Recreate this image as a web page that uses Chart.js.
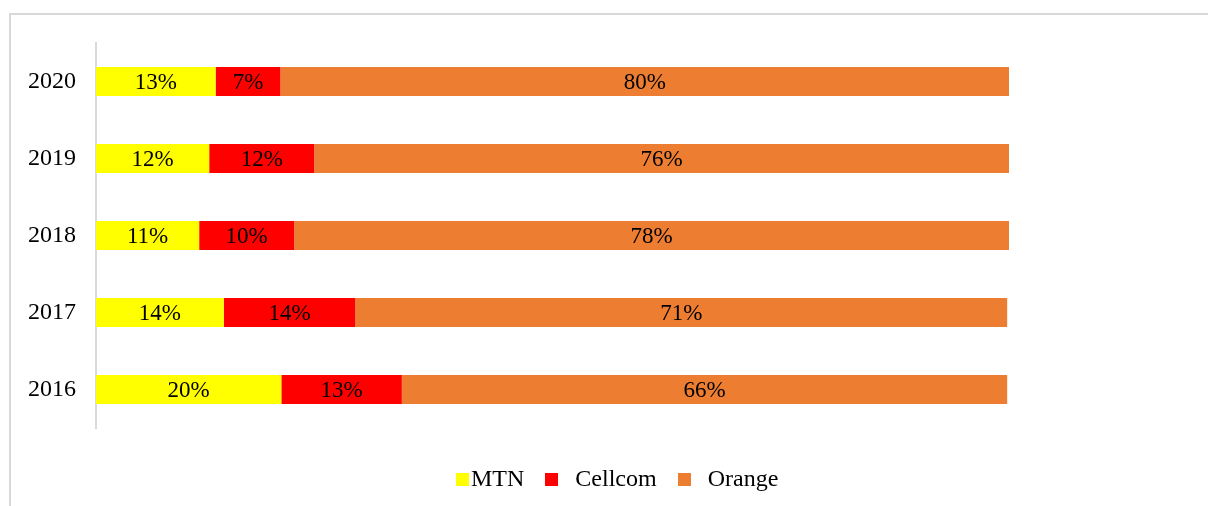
<!DOCTYPE html>
<html>
<head>
<meta charset="utf-8">
<script src="https://cdn.jsdelivr.net/npm/chart.js@4.4.0/dist/chart.umd.min.js"></script>
<style>
    html, body { margin: 0; padding: 0; background: #fff; overflow: hidden; }
    #frame {
        position: absolute; left: 9px; top: 13px;
        width: 1220px; height: 520px;
        border: 2px solid #d9d9d9;
    }
    #wrap { position: absolute; left: 0; top: 0; width: 1208px; height: 506px; }
    #legend {
        position: absolute; left: 456px; top: 465px;
        display: flex; align-items: center;
        font-family: 'Liberation Serif', 'Times New Roman', serif;
        font-size: 24px; color: #000; white-space: nowrap;
    }
    .legend-item { display: flex; align-items: center; margin-right: 21px; }
    .legend-box { width: 13px; height: 13px; display: inline-block; margin-top: 2px; }
</style>
</head>
<body>
<div id="frame"></div>
<div id="wrap"><canvas id="shareChart" width="1208" height="506"></canvas></div>
<div id="legend"></div>
<script>
// market share by operator, percent
const years = ['2020', '2019', '2018', '2017', '2016'];
const seriesNames = ['MTN', 'Cellcom', 'Orange'];
const mtnShare = [13.1, 12.4, 11.3, 14.0, 20.3];
const cellcomShare = [7.1, 11.5, 10.4, 14.4, 13.2];
const orangeShare = [79.8, 76.1, 78.3, 71.4, 66.3];
const seriesColors = ['#ffff00', '#ff0000', '#ed7d31'];

const serif = "'Liberation Serif', 'Times New Roman', serif";

// draws the % value in the middle of each bar segment
const barLabels = {
    id: 'barLabels',
    afterDatasetsDraw(chart) {
        const ctx = chart.ctx;
        ctx.save();
        ctx.font = '23px ' + serif;
        ctx.fillStyle = '#000';
        ctx.textAlign = 'center';
        ctx.textBaseline = 'middle';
        chart.data.datasets.forEach((ds, i) => {
            chart.getDatasetMeta(i).data.forEach((bar, j) => {
                const x = (bar.x + bar.base) / 2;
                ctx.fillText(Math.round(ds.data[j]) + '%', x, bar.y + 1);
            });
        });
        ctx.restore();
    }
};

function buildLegend() {
    const legend = document.getElementById('legend');
    seriesNames.forEach((name, i) => {
        const item = document.createElement('span');
        item.className = 'legend-item';
        const box = document.createElement('span');
        box.className = 'legend-box';
        box.style.background = seriesColors[i];
        const label = document.createElement('span');
        label.textContent = name;
        label.style.marginLeft = (i === 0 ? 2 : 17) + 'px';
        item.appendChild(box);
        item.appendChild(label);
        legend.appendChild(item);
    });
}

const ctx = document.getElementById('shareChart').getContext('2d');
new Chart(ctx, {
    type: 'bar',
    data: {
        labels: years,
        datasets: [
            { label: seriesNames[0], data: mtnShare, backgroundColor: seriesColors[0] },
            { label: seriesNames[1], data: cellcomShare, backgroundColor: seriesColors[1] },
            { label: seriesNames[2], data: orangeShare, backgroundColor: seriesColors[2] }
        ]
    },
    options: {
        indexAxis: 'y',
        responsive: false,
        animation: false,
        layout: { padding: { top: 43, right: 199, bottom: 78, left: 0 } },
        datasets: {
            bar: { categoryPercentage: 1, barPercentage: 0.377, borderWidth: 0 }
        },
        plugins: {
            legend: { display: false },
            tooltip: { enabled: false }
        },
        scales: {
            x: {
                stacked: true,
                min: 0,
                max: 100,
                display: false
            },
            y: {
                stacked: true,
                grid: { display: false, drawTicks: false },
                border: { display: true, color: '#d9d9d9', width: 2 },
                ticks: {
                    color: '#000',
                    padding: 20,
                    font: { family: serif, size: 24 }
                },
                afterFit: function(scale) { scale.width = 96; }
            }
        }
    },
    plugins: [barLabels]
});

buildLegend();
</script>
</body>
</html>
